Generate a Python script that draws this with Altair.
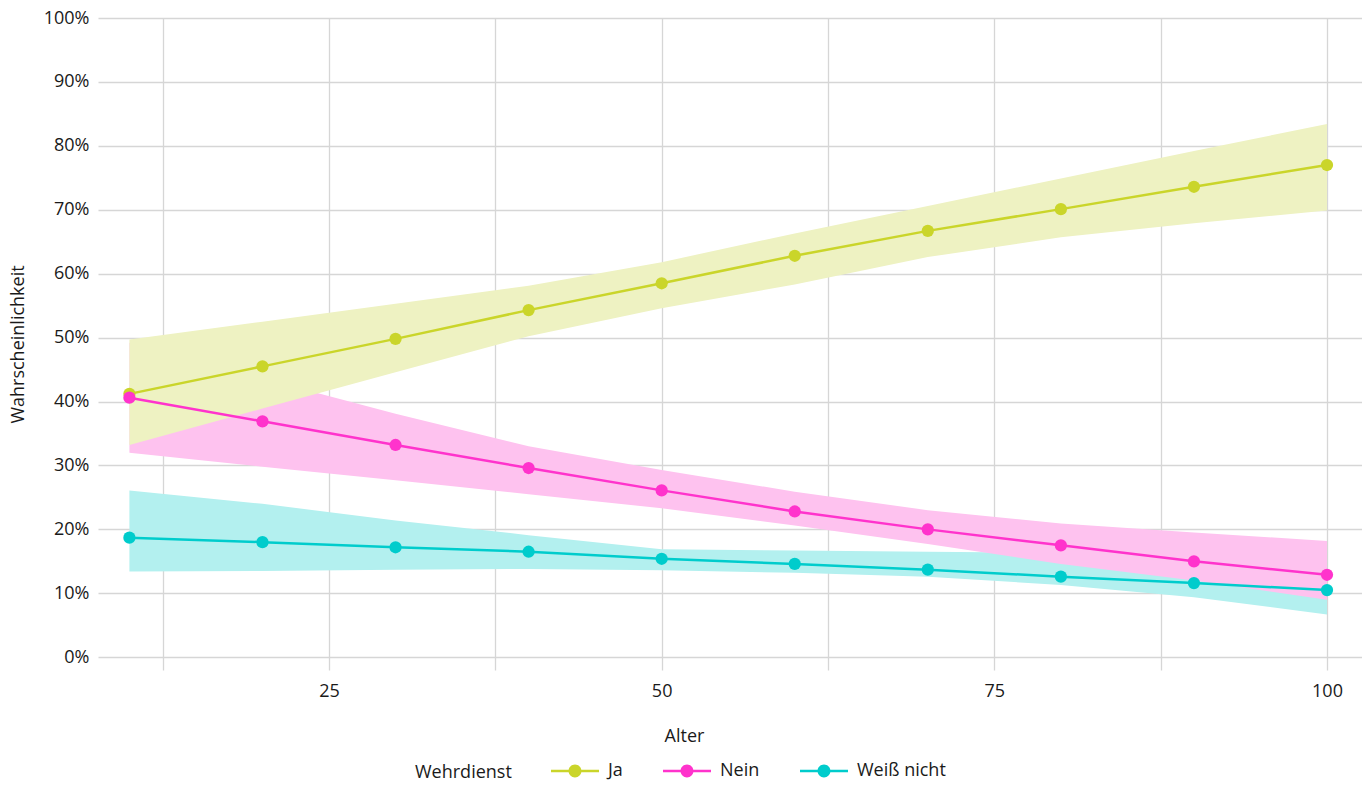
import altair as alt
import pandas as pd

ages = [10, 20, 30, 40, 50, 60, 70, 80, 90, 100]
categories = ["Ja", "Nein", "Weiß nicht"]

ja = [41.2, 45.5, 49.8, 54.3, 58.5, 62.8, 66.7, 70.1, 73.6, 77.0]
ja_lo = [33.2, 38.9, 44.6, 50.2, 54.6, 58.3, 62.6, 65.7, 67.9, 69.9]
ja_hi = [49.7, 52.5, 55.3, 58.1, 61.8, 66.3, 70.6, 74.9, 79.2, 83.4]

nein = [40.6, 36.9, 33.2, 29.6, 26.1, 22.8, 20.0, 17.5, 15.0, 12.9]
nein_lo = [32.0, 29.8, 27.7, 25.5, 23.3, 20.6, 17.7, 14.6, 12.0, 9.0]
nein_hi = [49.2, 43.6, 38.1, 33.0, 29.3, 25.9, 23.0, 20.9, 19.5, 18.2]

weiss = [18.7, 18.0, 17.2, 16.5, 15.4, 14.6, 13.7, 12.6, 11.6, 10.5]
weiss_lo = [13.4, 13.5, 13.7, 13.8, 13.6, 13.2, 12.6, 11.3, 9.4, 6.7]
weiss_hi = [26.1, 24.0, 21.4, 19.1, 16.9, 16.7, 16.5, 16.3, 15.6, 14.9]

line_colors = ["#cad52a", "#ff33cc", "#00cccc"]
band_colors = ["#eef2c2", "#fec2ef", "#b3f0ef"]

y_ticks = [0, 0.1, 0.2, 0.3, 0.4, 0.5, 0.6, 0.7, 0.8, 0.9, 1.0]
x_ticks = [12.5, 25, 37.5, 50, 62.5, 75, 87.5, 100]

rows = []
for cat, est, lo, hi in [
    ("Ja", ja, ja_lo, ja_hi),
    ("Nein", nein, nein_lo, nein_hi),
    ("Weiß nicht", weiss, weiss_lo, weiss_hi),
]:
    for a, e, l, h in zip(ages, est, lo, hi):
        rows.append({"Alter": a, "Wehrdienst": cat, "p": e / 100, "lo": l / 100, "hi": h / 100})
df = pd.DataFrame(rows)

FONT = "Open Sans"
TXT = "#1a1a1a"
FS = 18

xscale = alt.Scale(domain=[7.64, 102.63], nice=False, zero=False)
yscale = alt.Scale(domain=[-0.02, 1.0], nice=False, zero=False)

xaxis = alt.Axis(
    values=x_ticks,
    labelExpr="datum.value % 25 == 0 ? datum.label : ''",
    title="Alter",
    titleX=586,
    titleY=66,
    titleBaseline="middle",
    titleAlign="center",
    labelPadding=12,
)
yaxis = alt.Axis(
    values=y_ticks,
    format=".0%",
    title="Wahrscheinlichkeit",
    titleX=-80,
    titleY=326,
    titleBaseline="middle",
    titleAlign="center",
    titleAngle=-90,
    labelPadding=9,
)

base = alt.Chart(df)
color_of = dict(zip(categories, line_colors))
band_of = dict(zip(categories, band_colors))

bands = []
for cat in ["Weiß nicht", "Nein", "Ja"]:
    bands.append(
        base.transform_filter(alt.datum.Wehrdienst == cat)
        .mark_area(opacity=1, color=band_of[cat])
        .encode(
            x=alt.X("Alter:Q", scale=xscale, axis=xaxis),
            y=alt.Y("lo:Q", scale=yscale, axis=yaxis),
            y2="hi:Q",
        )
    )

lines = []
for cat in categories:
    lines.append(
        base.transform_filter(alt.datum.Wehrdienst == cat)
        .mark_line(strokeWidth=2.5, color=color_of[cat])
        .encode(
            x=alt.X("Alter:Q", scale=xscale),
            y=alt.Y("p:Q", scale=yscale),
        )
    )

symbol_path = (
    "M-1,-0.052L1,-0.052L1,0.052L-1,0.052Z "
    "M0.27,0A0.27,0.27,0,1,1,-0.27,0A0.27,0.27,0,1,1,0.27,0Z"
)

points = base.mark_circle(size=150, opacity=1).encode(
    x=alt.X("Alter:Q", scale=xscale),
    y=alt.Y("p:Q", scale=yscale),
    color=alt.Color(
        "Wehrdienst:N",
        scale=alt.Scale(domain=categories, range=line_colors),
        legend=alt.Legend(
            title="Wehrdienst",
            orient="none",
            legendX=317,
            legendY=729,
            direction="horizontal",
            titleOrient="left",
            titleAnchor="middle",
            titleBaseline="top",
            symbolType=symbol_path,
            symbolSize=2304,
            symbolStrokeWidth=0,
            symbolOpacity=1,
            labelOffset=9,
            columnPadding=40,
            titlePadding=39,
        ),
    ),
)

chart = (
    alt.layer(*bands, *lines, points)
    .properties(
        width=1264,
        height=652,
        padding={"left": 90, "top": 10, "right": 0, "bottom": 111},
        autosize=alt.AutoSizeParams(type="none"),
        background="white",
    )
    .configure_view(stroke=None)
    .configure_axis(
        domain=False,
        ticks=False,
        grid=True,
        gridColor="#d6d6d6",
        gridWidth=1.3,
        labelFont=FONT,
        labelFontSize=FS,
        labelColor=TXT,
        titleFont=FONT,
        titleFontSize=FS,
        titleFontWeight="normal",
        titleColor=TXT,
    )
    .configure_legend(
        labelFont=FONT,
        labelFontSize=FS,
        labelColor=TXT,
        titleFont=FONT,
        titleFontSize=FS,
        titleFontWeight="normal",
        titleColor=TXT,
    )
)

chart.save("out.html", embed_options={"renderer": "svg", "actions": False})
